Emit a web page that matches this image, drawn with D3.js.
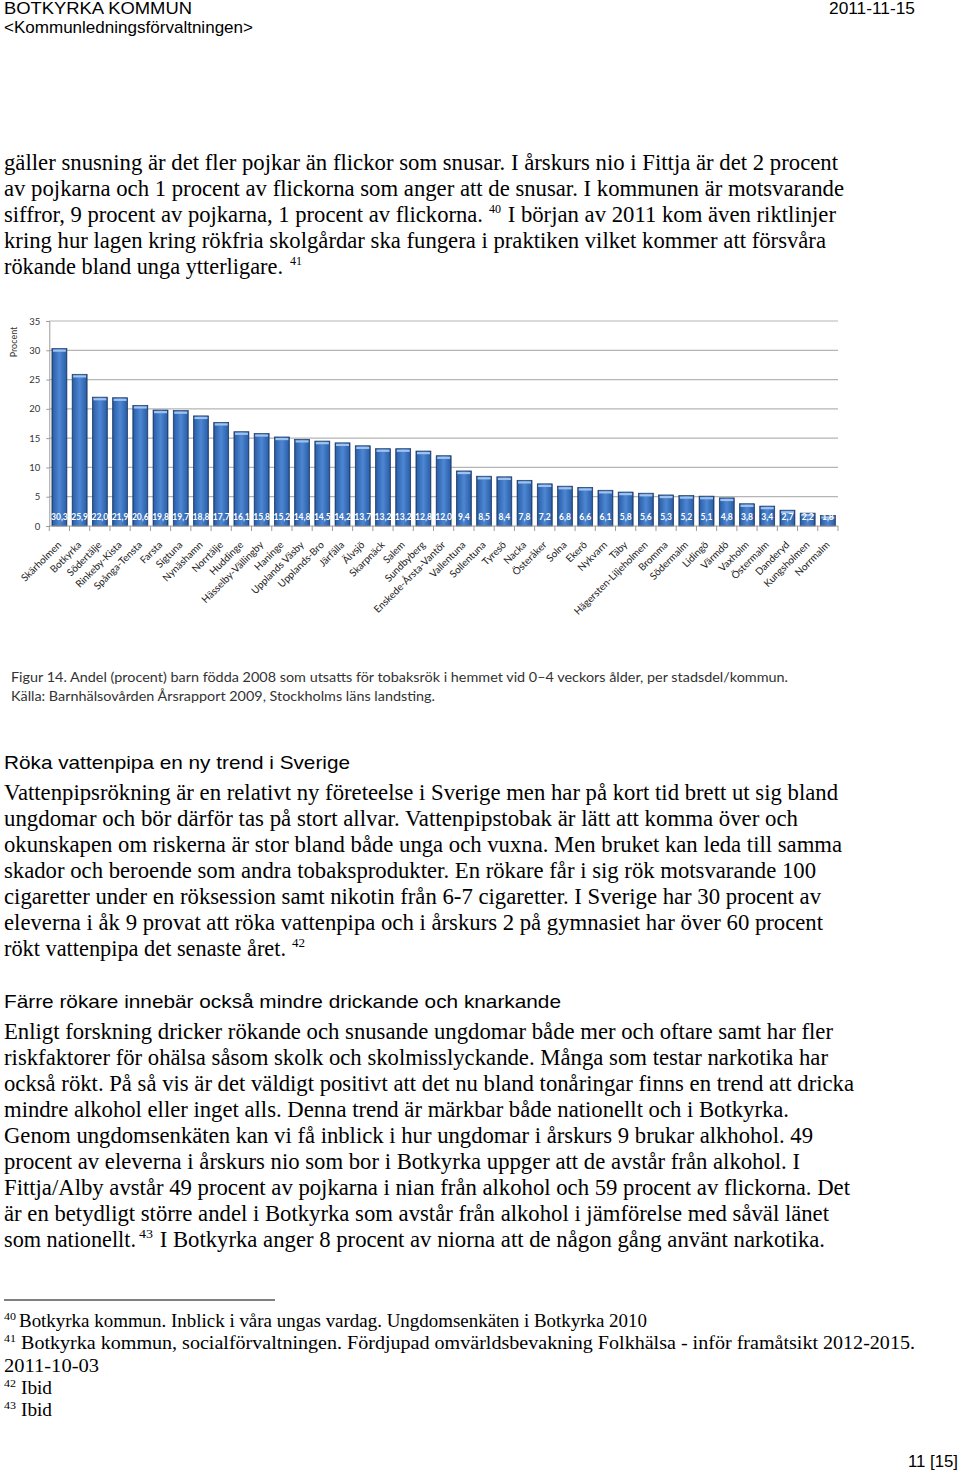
<!DOCTYPE html>
<html>
<head>
<meta charset="utf-8">
<title>Botkyrka sida 11</title>
<script src="https://cdn.jsdelivr.net/npm/d3@7"></script>
<style>
  body { margin:0; background:#fff; }
  svg { display:block; }
  .serif { font-family: "Liberation Serif", "Times New Roman", serif; }
  .sans { font-family: "Liberation Sans", Arial, sans-serif; }
  .cal { font-family: Lato, "Open Sans", sans-serif; }
</style>
</head>
<body>
<svg id="page" width="960" height="1473"></svg>
<script>
// chart data
var districts = ['Skärholmen','Botkyrka','Södertälje','Rinkeby-Kista','Spånga-Tensta','Farsta','Sigtuna',
  'Nynäshamn','Norrtälje','Huddinge','Hässelby-Vällingby','Haninge','Upplands Väsby','Upplands-Bro',
  'Järfälla','Älvsjö','Skarpnäck','Salem','Sundbyberg','Enskede-Årsta-Vantör','Vallentuna','Sollentuna',
  'Tyresö','Nacka','Österåker','Solna','Ekerö','Nykvarn','Täby','Hägersten-Liljeholmen','Bromma',
  'Södermalm','Lidingö','Värmdö','Vaxholm','Östermalm','Danderyd','Kungsholmen','Norrmalm'];
var values = [30.3,25.9,22.0,21.9,20.6,19.8,19.7,18.8,17.7,16.1,15.8,15.2,14.8,14.5,14.2,13.7,13.2,13.2,
  12.8,12.0,9.4,8.5,8.4,7.8,7.2,6.8,6.6,6.1,5.8,5.6,5.3,5.2,5.1,4.8,3.8,3.4,2.7,2.2,1.8];
var yTicks = [0,5,10,15,20,25,30,35];

var svg = d3.select('#page');

// write one line of page text, stretched to end at endX
function put(str, x, y, endX, cls, size, fill) {
  var t = svg.append('text').attr('class', cls)
    .attr('x', x).attr('y', y)
    .attr('font-size', size)
    .attr('fill', fill || '#000')
    .text(str);
  if (endX) t.attr('textLength', endX - x).attr('lengthAdjust', 'spacingAndGlyphs');
  return t;
}
// one line built from pieces, some raised as superscripts: [text, x, endX, raised]
function line(y, parts, size) {
  var t = svg.append('text').attr('class', 'serif').attr('font-size', size).attr('fill', '#000');
  parts.forEach(p => {
    var s = t.append('tspan')
      .attr('x', p[1])
      .attr('y', p[3] ? y - 9 : y)
      .attr('font-size', p[3] ? 12 : size)
      .text(p[0]);
    if (p[2]) s.attr('textLength', p[2] - p[1]).attr('lengthAdjust', 'spacingAndGlyphs');
  });
  return t;
}

// header
put('BOTKYRKA KOMMUN', 4, 14, 192, 'sans', 17);
put('<Kommunledningsförvaltningen>', 4, 33, 253, 'sans', 17);
put('2011-11-15', 829, 14, 915, 'sans', 17);

// first paragraph
var body = 23;
put('gäller snusning är det fler pojkar än flickor som snusar. I årskurs nio i Fittja är det 2 procent', 4, 170, 838, 'serif', body);
put('av pojkarna och 1 procent av flickorna som anger att de snusar. I kommunen är motsvarande', 4, 196, 844, 'serif', body);
line(222, [['siffror, 9 procent av pojkarna, 1 procent av flickorna.', 4, 483], ['40', 489, 501, true],
  [' I början av 2011 kom även riktlinjer', 502, 836]], body);
put('kring hur lagen kring rökfria skolgårdar ska fungera i praktiken vilket kommer att försvåra', 4, 248, 826, 'serif', body);
line(274, [['rökande bland unga ytterligare.', 4, 283], ['41', 290, 302, true]], body);

// ---- chart ----
var x = d3.scaleBand()
  .domain(districts)
  .range([49.3, 838])
  .paddingInner(0.26)
  .paddingOuter(0.13);
var y = d3.scaleLinear()
  .domain([0, 35])
  .range([526, 321]);

var defs = svg.append('defs');
var grad = defs.append('linearGradient').attr('id', 'barFill')
  .attr('x1', 0).attr('x2', 1).attr('y1', 0).attr('y2', 0);
[['0%', '#1a3d72'], ['9%', '#2f64ae'], ['50%', '#4d86d2'], ['91%', '#2f64ae'], ['100%', '#1a3d72']]
  .forEach(s => grad.append('stop').attr('offset', s[0]).attr('stop-color', s[1]));

var chart = svg.append('g');

// gridlines
chart.append('g').selectAll('line')
  .data(yTicks.slice(1))
  .enter().append('line')
  .attr('x1', 49.3).attr('x2', 838)
  .attr('y1', d => y(d)).attr('y2', d => y(d))
  .attr('stroke', '#b5b5b5').attr('stroke-width', 1.2);

// y axis
var yAxis = d3.axisLeft(y).tickValues(yTicks).tickSize(3).tickPadding(6);
var gy = chart.append('g')
  .attr('transform', 'translate(49.3,0)')
  .call(yAxis);
gy.select('.domain').attr('stroke', '#9a9a9a');
gy.selectAll('.tick line').attr('stroke', '#9a9a9a');
gy.selectAll('text').attr('class', 'cal').attr('font-size', 9.5).attr('fill', '#333');

// bars
var bars = chart.append('g').selectAll('g')
  .data(districts)
  .enter().append('g');
bars.append('rect')
  .attr('x', d => x(d))
  .attr('y', (d, i) => y(values[i]))
  .attr('width', x.bandwidth())
  .attr('height', (d, i) => y(0) - y(values[i]))
  .attr('fill', 'url(#barFill)')
  .attr('stroke', '#1c3a66').attr('stroke-width', 0.7);
bars.append('rect')
  .attr('x', d => x(d) + 1)
  .attr('y', (d, i) => y(values[i]) + 1)
  .attr('width', x.bandwidth() - 2)
  .attr('height', 2.2)
  .attr('fill', '#9fc2ee');
bars.append('text')
  .attr('class', 'cal')
  .attr('x', d => x(d) + x.bandwidth() / 2)
  .attr('y', 520)
  .attr('text-anchor', 'middle')
  .attr('font-size', 8.5).attr('font-weight', 'bold')
  .attr('fill', '#fff')
  .text((d, i) => d3.format('.1f')(values[i]).replace('.', ','));

// x axis line and boundary ticks
chart.append('line')
  .attr('x1', 49.3).attr('x2', 838).attr('y1', y(0)).attr('y2', y(0))
  .attr('stroke', '#9a9a9a');
var bounds = districts.map(d => x(d) - x.step() * x.paddingInner() / 2).concat([838]);
chart.append('g').selectAll('line')
  .data(bounds)
  .enter().append('line')
  .attr('x1', d => d).attr('x2', d => d)
  .attr('y1', y(0)).attr('y2', y(0) + 5)
  .attr('stroke', '#9a9a9a');

// category labels
chart.append('g').selectAll('text')
  .data(districts)
  .enter().append('text')
  .attr('class', 'cal')
  .attr('transform', d => 'translate(' + (x(d) + x.bandwidth() / 2) + ',543) rotate(-45)')
  .attr('text-anchor', 'end')
  .attr('dy', '0.35em')
  .attr('font-size', 10)
  .attr('fill', '#222')
  .text(d => d);

chart.append('text')
  .attr('class', 'cal')
  .attr('transform', 'translate(17,342) rotate(-90)')
  .attr('text-anchor', 'middle')
  .attr('font-size', 9).attr('fill', '#333')
  .text('Procent');

// caption
put('Figur 14. Andel (procent) barn födda 2008 som utsatts för tobaksrök i hemmet vid 0–4 veckors ålder, per stadsdel/kommun.', 11, 682, 788, 'cal', 14, '#333');
put('Källa: Barnhälsovården Årsrapport 2009, Stockholms läns landsting.', 11, 701, 435, 'cal', 14, '#333');

// second section
put('Röka vattenpipa en ny trend i Sverige', 4, 769, 350, 'sans', 19);
var para2 = [
  ['Vattenpipsrökning är en relativt ny företeelse i Sverige men har på kort tid brett ut sig bland', 838],
  ['ungdomar och bör därför tas på stort allvar. Vattenpipstobak är lätt att komma över och', 798],
  ['okunskapen om riskerna är stor bland både unga och vuxna. Men bruket kan leda till samma', 842],
  ['skador och beroende som andra tobaksprodukter. En rökare får i sig rök motsvarande 100', 816],
  ['cigaretter under en röksession samt nikotin från 6-7 cigaretter. I Sverige har 30 procent av', 821],
  ['eleverna i åk 9 provat att röka vattenpipa och i årskurs 2 på gymnasiet har över 60 procent', 823]
];
para2.forEach((l, i) => put(l[0], 4, 800 + i * 26, l[1], 'serif', body));
line(956, [['rökt vattenpipa det senaste året.', 4, 286], ['42', 292, 305, true]], body);

// third section
put('Färre rökare innebär också mindre drickande och knarkande', 4, 1008, 561, 'sans', 19);
var para3 = [
  ['Enligt forskning dricker rökande och snusande ungdomar både mer och oftare samt har fler', 833],
  ['riskfaktorer för ohälsa såsom skolk och skolmisslyckande. Många som testar narkotika har', 828],
  ['också rökt. På så vis är det väldigt positivt att det nu bland tonåringar finns en trend att dricka', 854],
  ['mindre alkohol eller inget alls. Denna trend är märkbar både nationellt och i Botkyrka.', 789],
  ['Genom ungdomsenkäten kan vi få inblick i hur ungdomar i årskurs 9 brukar alkhohol. 49', 813],
  ['procent av eleverna i årskurs nio som bor i Botkyrka uppger att de avstår från alkohol. I', 800],
  ['Fittja/Alby avstår 49 procent av pojkarna i nian från alkohol och 59 procent av flickorna. Det', 850],
  ['är en betydligt större andel i Botkyrka som avstår från alkohol i jämförelse med såväl länet', 829]
];
para3.forEach((l, i) => put(l[0], 4, 1039 + i * 26, l[1], 'serif', body));
line(1247, [['som nationellt.', 4, 136], ['43', 139, 153, true],
  [' I Botkyrka anger 8 procent av niorna att de någon gång använt narkotika.', 154, 825]], body);

// footnotes
svg.append('line').attr('x1', 4).attr('x2', 275).attr('y1', 1300).attr('y2', 1300)
  .attr('stroke', '#000').attr('stroke-width', 1);
function fn(num, y) { return put(num, 4, y - 7, 16, 'serif', 11); }
fn('40', 1327);
put('Botkyrka kommun. Inblick i våra ungas vardag. Ungdomsenkäten i Botkyrka 2010', 19, 1327, 647, 'serif', 18);
fn('41', 1349);
put('Botkyrka kommun, socialförvaltningen. Fördjupad omvärldsbevakning Folkhälsa - inför framåtsikt 2012-2015.', 21, 1349, 915, 'serif', 18);
put('2011-10-03', 4, 1372, 99, 'serif', 18);
fn('42', 1394);
put('Ibid', 21, 1394, 52, 'serif', 18);
fn('43', 1416);
put('Ibid', 21, 1416, 52, 'serif', 18);

// page number
put('11 [15]', 908, 1467, 958, 'sans', 16);
</script>
</body>
</html>
